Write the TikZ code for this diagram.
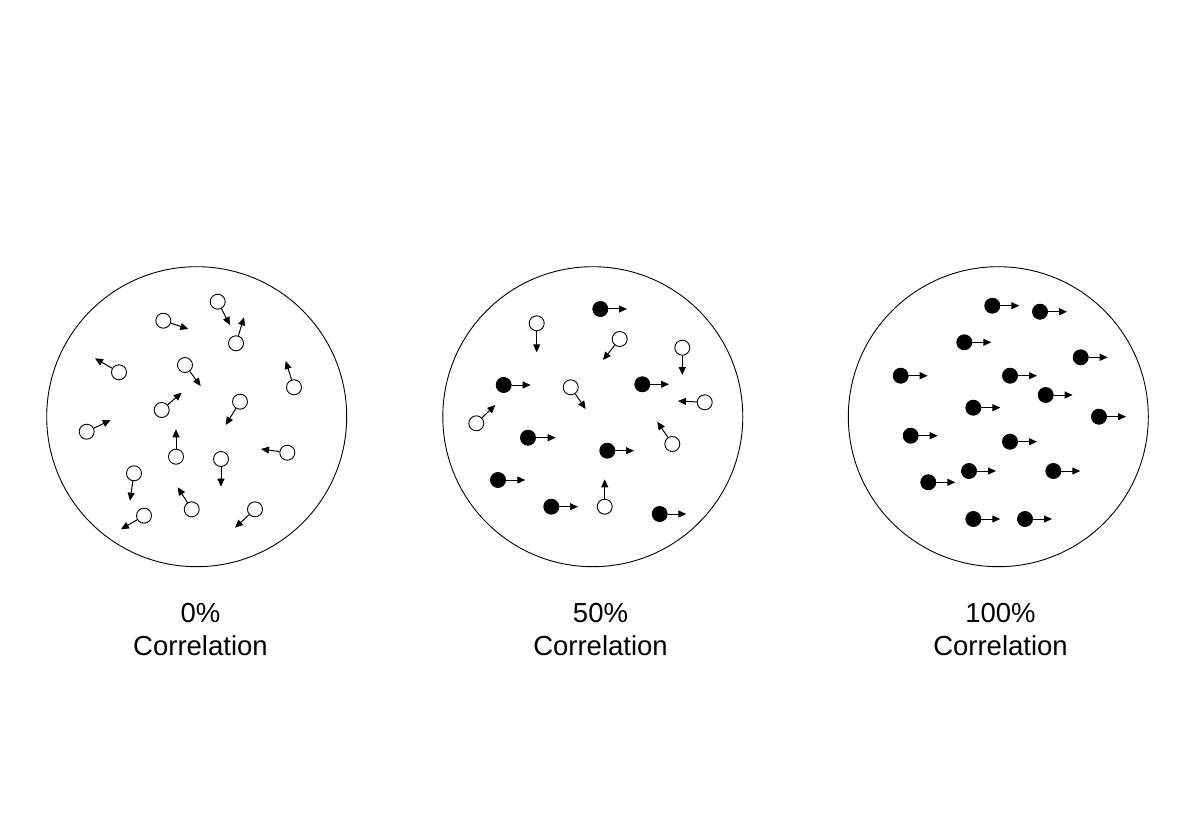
\documentclass[tikz,border=0pt]{standalone}
\usepackage{fontspec}
\setmainfont{Liberation Sans}
\usetikzlibrary{arrows.meta,calc}
\tikzset{
  ring/.style={draw=black, line width=0.9pt, circle, minimum size=300pt, inner sep=0pt},
  hollow/.style={draw=black, fill=white, line width=0.9pt, circle, minimum size=15pt, inner sep=0pt},
  solid/.style={draw=black, fill=black, line width=0.9pt, circle, minimum size=15pt, inner sep=0pt},
  vec/.style={line width=1pt, -{Triangle[length=8pt,width=7pt]}},
  lbl/.style={anchor=base, font=\fontsize{27.5}{32}\selectfont, inner sep=0pt}
}
\begin{document}
\begin{tikzpicture}[x=1pt, y=-1pt]
\useasboundingbox (0,0) rectangle (1194,834);
\fill[white] (0,0) rectangle (1194,834);
% big circles
\node[ring] (c1) at (196.7,416.7) {};
\node[ring] (c2) at (592.8,416.7) {};
\node[ring] (c3) at (998.3,416.7) {};
% panel 1: 0%
\foreach \n/\x/\y/\tx/\ty in {
 1/217.7/301.7/230/325,
 2/163.3/320.7/188.3/329,
 3/236/343.3/244/317.3,
 4/119/372.3/95/358.3,
 5/185/365/200.7/386,
 6/294/387.3/285.7/361,
 7/161.7/410/181.7/392.7,
 8/240/401.7/225.7/425,
 9/86.7/431.7/110.7/420,
 10/176/456.7/176/429.3,
 11/287.3/452.7/261/449,
 12/221/459/221/486.7,
 13/134/473.3/130/500.7,
 14/191.7/509.3/177.7/487.3,
 15/144/515.7/121/529.3,
 16/255/509.3/235/527.7}{
  \node[hollow] (a\n) at (\x,\y) {};
  \coordinate (ta\n) at (\tx,\ty);
  \draw[vec] (a\n) -- (ta\n);
}
% panel 2: 50%
\foreach \n/\x/\y/\tx/\ty in {
 1/600.3/309/627/309,
 2/503.7/385/530.7/385,
 3/642.3/384.3/669/384.3,
 4/528/437.7/555.7/437.7,
 5/607.3/450.7/634/450.7,
 6/498/480/525.3/480,
 7/551.3/506.7/578/506.7,
 8/659.7/514/686.3/514}{
  \node[solid] (b\n) at (\x,\y) {};
  \coordinate (tb\n) at (\tx,\ty);
  \draw[vec] (b\n) -- (tb\n);
}
\foreach \n/\x/\y/\tx/\ty in {
 9/536.7/323.3/536.7/352.3,
 10/619.7/339/603/360,
 11/682.3/347.7/682.3/375,
 12/570.7/387.3/585.7/409,
 13/704.7/402.3/678/401,
 14/476.3/423.3/495.3/405,
 15/672.3/444/657.3/421.7,
 16/604.7/506.7/604.7/479.3}{
  \node[hollow] (b\n) at (\x,\y) {};
  \coordinate (tb\n) at (\tx,\ty);
  \draw[vec] (b\n) -- (tb\n);
}
% panel 3: 100%
\foreach \n/\x/\y in {
 1/992.3/305.7, 2/1040/311.7, 3/964.3/342.3, 4/1080.7/357.3,
 5/900.7/375.7, 6/1010/375.7, 7/1045.7/395, 8/973.3/407.7,
 9/1099/416.7, 10/910.7/435.7, 11/1010/441.7, 12/969/471,
 13/1053.3/471, 14/928.3/482.3, 15/973.3/519, 16/1025/519}{
  \node[solid] (e\n) at (\x,\y) {};
  \coordinate (te\n) at ($(\x,\y)+(27,0)$);
  \draw[vec] (e\n) -- (te\n);
}
% labels
\node[lbl] (l1a) at (200.5,622.3) {0\%};
\node[lbl] (l1b) at (200.5,655.7) {Correlation};
\node[lbl] (l2a) at (600.5,622.3) {50\%};
\node[lbl] (l2b) at (600.5,655.7) {Correlation};
\node[lbl] (l3a) at (1000.5,622.3) {100\%};
\node[lbl] (l3b) at (1000.5,655.7) {Correlation};
\end{tikzpicture}
\end{document}
